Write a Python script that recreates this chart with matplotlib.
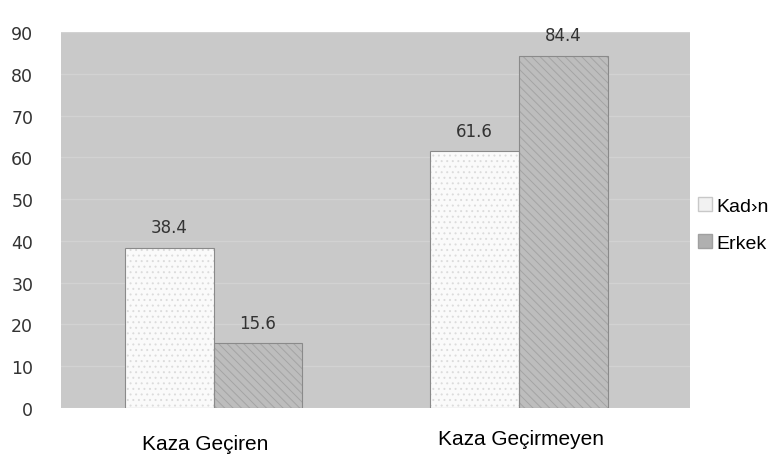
import numpy as np
import matplotlib.pyplot as plt
import matplotlib.transforms as mtransforms
from matplotlib.patches import Patch

categories = ['Kaza Geçiren', 'Kaza Geçirmeyen']
kadin = [38.4, 61.6]
erkek = [15.6, 84.4]
series_names = ['Kad›n', 'Erkek']

plt.rcParams['hatch.linewidth'] = 0.7

fig = plt.figure(figsize=(7.68, 4.6), dpi=100)
ax = fig.add_axes([0.0794, 0.111, 0.819, 0.817])
ax.set_facecolor('#c9c9c9')

x = np.arange(len(categories))
w = 0.29
# hatched fill (hatch takes the edge colour), then an outline on top
ax.bar(x - w / 2, kadin, w, color='#fafafa', edgecolor='#dcdcdc',
       linewidth=0, hatch='...', zorder=3)
ax.bar(x + w / 2, erkek, w, color='#bdbdbd', edgecolor='#a4a4a4',
       linewidth=0, hatch='\\\\\\\\', zorder=3)
b1 = ax.bar(x - w / 2, kadin, w, fill=False, edgecolor='#8a8a8a',
            linewidth=0.8, zorder=4)
b2 = ax.bar(x + w / 2, erkek, w, fill=False, edgecolor='#8a8a8a',
            linewidth=0.8, zorder=4)

for bars in (b1, b2):
    for r in bars:
        ax.annotate('%.1f' % r.get_height(),
                    (r.get_x() + r.get_width() / 2, r.get_height()),
                    xytext=(0, 8), textcoords='offset points',
                    ha='center', va='bottom', fontsize=12, color='#333333')

ax.set_ylim(0, 90)
ax.set_xlim(-0.5, 1.56)
ax.set_yticks(range(0, 91, 10))
ax.yaxis.grid(True, color='#d2d2d2', linewidth=1, zorder=0)
ax.set_axisbelow(True)
ax.tick_params(axis='y', length=0, pad=20, labelsize=12.5, labelcolor='#333333')
ax.set_xticks(x)
ax.set_xticklabels(categories, fontsize=15, family='Liberation Sans')
ax.tick_params(axis='x', length=0, pad=19)
# labels in the original sit a little off the bar centres
offs = [(-8, 0), (2, 5)]
for lab, (dx, dy) in zip(ax.get_xticklabels(), offs):
    lab.set_transform(lab.get_transform() +
                      mtransforms.ScaledTranslation(dx / 100, dy / 100,
                                                    fig.dpi_scale_trans))
for s in ax.spines.values():
    s.set_visible(False)

handles = [Patch(facecolor='#f2f2f2', edgecolor='#c8c8c8'),
           Patch(facecolor='#b0b0b0', edgecolor='#a0a0a0')]
fig.legend(handles, series_names, loc='center left',
           bbox_to_anchor=(0.886, 0.51), frameon=False,
           prop={'family': 'Liberation Sans', 'size': 14},
           handlelength=0.7, handleheight=0.7, handletextpad=0.25,
           labelspacing=1.0)

plt.savefig('out.png', dpi=100)
